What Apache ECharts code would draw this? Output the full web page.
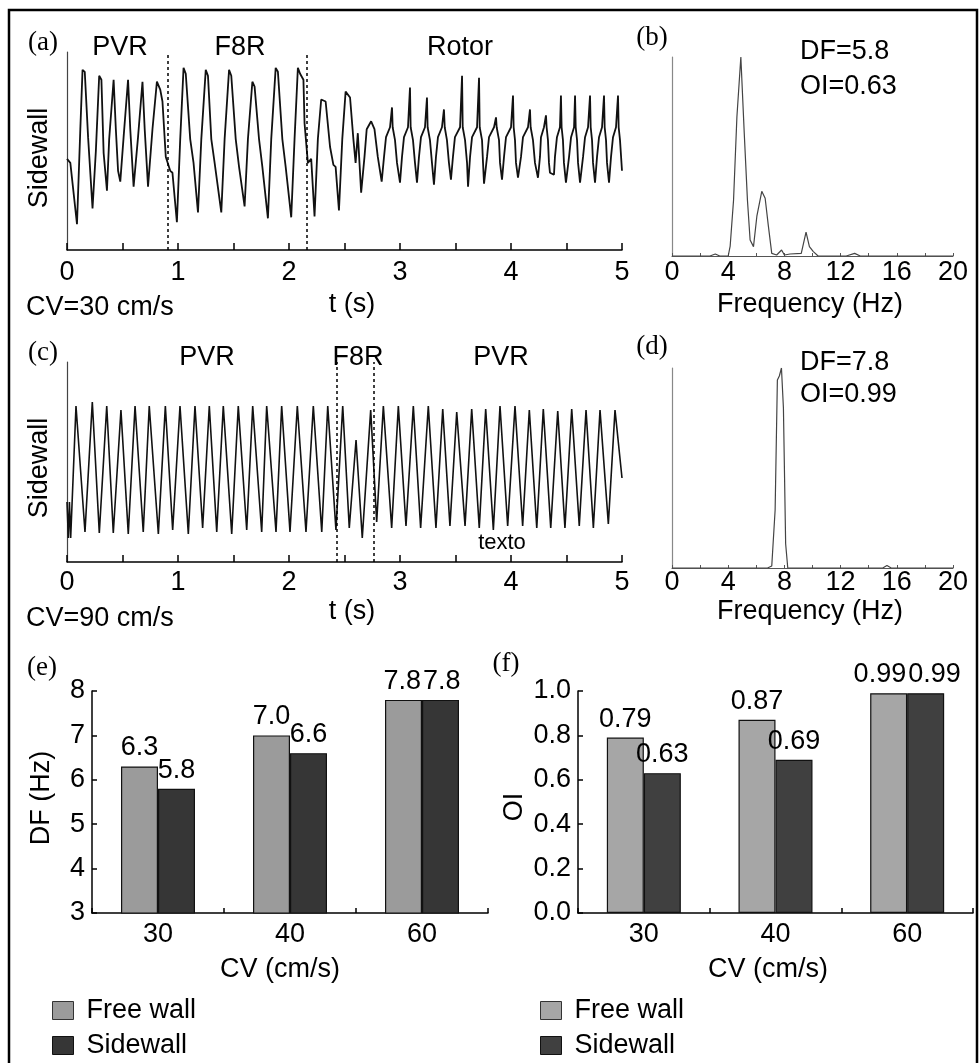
<!DOCTYPE html>
<html>
<head>
<meta charset="utf-8">
<script src="https://cdn.jsdelivr.net/npm/echarts@6/dist/echarts.min.js"></script>
<style>
  html, body { margin: 0; padding: 0; background: #fff; }
  #chart { width: 980px; height: 1063px; }
</style>
</head>
<body>
<div id="chart"></div>
<script>
// 时间信号 (a): [t (s), 幅值]
const sigA = [
  [0.00,0.46],[0.03,0.44],[0.09,0.13],[0.12,0.61],[0.14,0.91],[0.16,0.90],[0.19,0.57],[0.23,0.21],
  [0.26,0.50],[0.29,0.88],[0.31,0.86],[0.33,0.49],[0.36,0.30],[0.38,0.56],[0.42,0.86],[0.44,0.61],
  [0.46,0.40],[0.48,0.345],[0.51,0.57],[0.55,0.86],[0.57,0.61],[0.60,0.32],[0.64,0.57],[0.68,0.85],
  [0.70,0.61],[0.73,0.32],[0.77,0.61],[0.81,0.85],[0.84,0.81],[0.86,0.75],[0.89,0.47],[0.93,0.40],
  [0.95,0.39],[0.99,0.14],[1.02,0.56],[1.05,0.92],[1.07,0.89],[1.11,0.56],[1.14,0.44],[1.18,0.19],
  [1.21,0.56],[1.25,0.91],[1.27,0.88],[1.30,0.56],[1.33,0.44],[1.39,0.19],[1.42,0.56],[1.46,0.91],
  [1.48,0.88],[1.52,0.56],[1.55,0.42],[1.60,0.22],[1.63,0.56],[1.67,0.85],[1.69,0.825],[1.73,0.56],
  [1.76,0.42],[1.81,0.16],[1.84,0.56],[1.88,0.92],[1.90,0.90],[1.94,0.56],[1.97,0.42],[2.02,0.165],
  [2.05,0.56],[2.08,0.92],[2.10,0.89],[2.13,0.86],[2.14,0.64],[2.17,0.44],[2.20,0.46],[2.23,0.17],
  [2.26,0.56],[2.29,0.76],[2.33,0.75],[2.37,0.52],[2.40,0.43],[2.42,0.42],[2.45,0.20],[2.48,0.56],
  [2.51,0.80],[2.55,0.77],[2.58,0.56],[2.60,0.44],[2.62,0.59],[2.65,0.29],[2.68,0.47],[2.70,0.61],
  [2.74,0.65],[2.77,0.61],[2.80,0.47],[2.835,0.345],
  [2.856,0.47],[2.874,0.57],[2.910,0.62],[2.928,0.72],[2.934,0.62],[2.955,0.555],[2.973,0.44],[3.000,0.34],
  [3.018,0.47],[3.036,0.57],[3.072,0.62],[3.090,0.82],[3.096,0.62],[3.117,0.555],[3.135,0.44],[3.153,0.34],
  [3.171,0.47],[3.189,0.57],[3.225,0.62],[3.243,0.77],[3.249,0.62],[3.270,0.555],[3.288,0.44],[3.306,0.33],
  [3.324,0.47],[3.342,0.57],[3.378,0.62],[3.396,0.71],[3.403,0.62],[3.423,0.555],[3.441,0.44],[3.459,0.355],
  [3.477,0.47],[3.495,0.57],[3.541,0.62],[3.559,0.88],[3.565,0.62],[3.586,0.555],[3.604,0.44],[3.613,0.32],
  [3.631,0.47],[3.649,0.57],[3.694,0.62],[3.712,0.87],[3.718,0.62],[3.739,0.555],[3.748,0.44],[3.757,0.335],
  [3.784,0.47],[3.802,0.57],[3.847,0.62],[3.865,0.67],[3.871,0.62],[3.892,0.555],[3.901,0.44],[3.919,0.355],
  [3.937,0.47],[3.955,0.57],[4.000,0.62],[4.018,0.78],[4.024,0.62],[4.036,0.555],[4.045,0.44],[4.063,0.365],
  [4.090,0.47],[4.108,0.57],[4.153,0.62],[4.171,0.71],[4.177,0.62],[4.198,0.555],[4.216,0.44],[4.243,0.365],
  [4.261,0.47],[4.270,0.57],[4.297,0.62],[4.315,0.68],[4.321,0.62],[4.333,0.555],[4.342,0.44],[4.351,0.39],[4.387,0.38],
  [4.396,0.47],[4.414,0.57],[4.441,0.62],[4.450,0.78],[4.456,0.62],[4.468,0.555],[4.477,0.44],[4.495,0.34],
  [4.523,0.47],[4.541,0.57],[4.568,0.62],[4.577,0.78],[4.583,0.62],[4.595,0.555],[4.604,0.44],[4.622,0.34],
  [4.649,0.47],[4.667,0.57],[4.694,0.62],[4.712,0.78],[4.718,0.62],[4.730,0.555],[4.739,0.44],[4.757,0.34],
  [4.775,0.47],[4.793,0.57],[4.820,0.62],[4.838,0.78],[4.844,0.62],[4.856,0.555],[4.865,0.44],[4.883,0.34],
  [4.901,0.47],[4.919,0.57],[4.946,0.62],[4.964,0.78],[4.970,0.62],[4.982,0.555],[5.000,0.40]
];
// 时间信号 (c)
const sigC = [
  [0,0.30],[0.012,0.12],[0.022,0.30],[0.033,0.12],
  [0.081,0.78],[0.162,0.15],[0.228,0.80],[0.291,0.145],[0.358,0.78],[0.417,0.145],[0.486,0.76],[0.552,0.14],
  [0.613,0.78],[0.687,0.15],[0.741,0.78],[0.823,0.14],[0.886,0.78],[0.952,0.16],[1.018,0.78],[1.093,0.14],
  [1.153,0.78],[1.222,0.17],[1.282,0.78],[1.349,0.15],[1.408,0.78],[1.484,0.14],[1.543,0.78],[1.619,0.16],
  [1.673,0.78],[1.754,0.15],[1.799,0.78],[1.883,0.15],[1.934,0.78],[2.009,0.15],[2.075,0.78],[2.153,0.15],
  [2.219,0.78],[2.295,0.15],[2.349,0.78],[2.423,0.16],[2.484,0.78],[2.543,0.17],[2.604,0.61],[2.660,0.12],
  [2.736,0.76],[2.790,0.20],[2.850,0.78],[2.925,0.17],[2.985,0.78],[3.054,0.18],[3.120,0.78],[3.186,0.17],
  [3.255,0.78],[3.324,0.17],[3.385,0.765],[3.450,0.18],[3.511,0.75],[3.586,0.18],[3.646,0.765],[3.714,0.17],
  [3.772,0.765],[3.841,0.16],[3.901,0.78],[3.970,0.18],[4.036,0.78],[4.105,0.18],[4.165,0.76],[4.232,0.17],
  [4.291,0.765],[4.358,0.17],[4.421,0.755],[4.486,0.17],[4.547,0.765],[4.615,0.18],[4.676,0.76],[4.742,0.17],
  [4.802,0.76],[4.877,0.19],[4.937,0.76],[5.0,0.42]
];
// 频谱 (b)、(d): [频率 Hz, 相对功率]
const specB = [
  [0,0],[2.7,0],[3.08,0.01],[3.4,0],[4.0,0],[4.14,0.05],[4.38,0.28],[4.62,0.70],[4.9,1.0],[5.14,0.62],
  [5.37,0.28],[5.56,0.08],[5.8,0.047],[6.04,0.2],[6.39,0.325],[6.63,0.29],[6.86,0.15],[7.1,0.013],
  [7.45,0.005],[7.8,0.03],[8.0,0.005],[8.4,0.01],[9.2,0.013],[9.54,0.12],[9.78,0.047],[10.06,0.022],
  [10.4,0],[12.4,0],[13.0,0.013],[13.4,0],[20,0]
];
const specD = [
  [0,0],[6.8,0],[7.1,0.01],[7.34,0.29],[7.5,0.94],[7.64,0.96],[7.79,1.0],[7.93,0.80],[8.09,0.12],
  [8.24,0],[15.0,0],[15.3,0.013],[15.6,0],[20,0]
];
const dividersA = [0.91, 2.16];
const dividersC = [2.43, 2.76];
// 柱状图 (e)、(f)
const cvCats = ['30', '40', '60'];
const dfFree = [6.3, 7.0, 7.8];
const dfSide = [5.8, 6.6, 7.8];
const oiFree = [0.79, 0.87, 0.99];
const oiSide = [0.63, 0.69, 0.99];

const FONT = '"Liberation Sans", Arial, sans-serif';
const SERIF = '"Liberation Serif", "Times New Roman", serif';
const FS = 27;
const BAR_W = 37;

const chart = echarts.init(document.getElementById('chart'), null, { renderer: 'canvas' });

const txt = (text, x, y, opt) => Object.assign({
  type: 'text', x: x, y: y,
  style: { text: text, x: 0, y: 0, font: FS + 'px ' + FONT, fill: '#000',
    textAlign: 'center', textVerticalAlign: 'middle', align: 'center', verticalAlign: 'middle' }
}, opt || {});
const panel = (text, x, y) => {
  const t = txt(text, x, y);
  t.style.font = '27px ' + SERIF;
  return t;
};
const leftTxt = (text, x, y) => {
  const t = txt(text, x, y);
  t.style.textAlign = 'left'; t.style.align = 'left';
  return t;
};

function timeX(idx, margin) {
  return {
    type: 'value', gridIndex: idx, min: 0, max: 5, interval: 0.5,
    axisLine: { show: true, lineStyle: { color: '#000', width: 1.5 } },
    axisTick: { show: true, inside: true, length: 7, lineStyle: { color: '#000', width: 1.5 } },
    axisLabel: { margin: margin, fontSize: FS, fontFamily: FONT, color: '#000',
      formatter: v => (Number.isInteger(v) ? String(v) : '') },
    splitLine: { show: false }
  };
}
function freqX(idx, margin) {
  return {
    type: 'value', gridIndex: idx, min: 0, max: 20, interval: 2,
    axisLine: { show: true, lineStyle: { color: '#555', width: 1 } },
    axisTick: { show: true, inside: true, length: 3, lineStyle: { color: '#555' } },
    axisLabel: { margin: margin, fontSize: FS, fontFamily: FONT, color: '#000',
      formatter: v => (v % 4 === 0 ? String(v) : '') },
    splitLine: { show: false }
  };
}
function plainY(idx, color) {
  return {
    type: 'value', gridIndex: idx, min: 0, max: 1,
    axisLine: { show: true, onZero: false, lineStyle: { color: color, width: 1.2 } },
    axisTick: { show: false }, axisLabel: { show: false }, splitLine: { show: false }
  };
}
function catX(idx) {
  return {
    type: 'category', gridIndex: idx, data: cvCats,
    axisLine: { show: true, lineStyle: { color: '#000', width: 1.5 } },
    axisTick: { show: true, inside: true, length: 5, alignWithLabel: false, lineStyle: { color: '#000', width: 1.5 } },
    axisLabel: { margin: 8, fontSize: FS, fontFamily: FONT, color: '#000' }
  };
}
function barY(idx, min, max, step, digits) {
  return {
    type: 'value', gridIndex: idx, min: min, max: max, interval: step,
    axisLine: { show: true, lineStyle: { color: '#000', width: 1.5 } },
    axisTick: { show: true, inside: true, length: 5, lineStyle: { color: '#000', width: 1.5 } },
    axisLabel: { margin: 7, fontSize: FS, fontFamily: FONT, color: '#000',
      formatter: v => v.toFixed(digits) },
    splitLine: { show: false }
  };
}
function divider(vals) {
  return {
    silent: true, symbol: 'none', label: { show: false },
    lineStyle: { color: '#000', type: [3, 3], width: 1.5 },
    data: vals.map(v => ({ xAxis: v }))
  };
}
// 同高的两根柱子：标签左右推开，避免重叠
function bar(name, idx, data, other, color, digits, dir) {
  return {
    name: name, type: 'bar', xAxisIndex: idx, yAxisIndex: idx, data: data,
    barWidth: BAR_W, barGap: '0%',
    itemStyle: { color: color, borderColor: '#111', borderWidth: 1.2 },
    label: { show: true, position: 'top', distance: 5, fontSize: FS, fontFamily: FONT, color: '#000',
      formatter: p => p.value.toFixed(digits) },
    labelLayout: function (p) {
      if (Math.abs(data[p.dataIndex] - other[p.dataIndex]) > 0.05) return {};
      const shift = Math.max(0, (p.labelRect.width - BAR_W) / 2 + 1);
      return { dx: dir * shift };
    }
  };
}
function legendAt(left, free, side) {
  return {
    left: left, top: 997, height: 80, padding: 0, orient: 'vertical',
    itemWidth: 21, itemHeight: 18, itemGap: 8,
    selectedMode: false, icon: 'rect',
    textStyle: { fontSize: FS, lineHeight: 26, fontFamily: FONT, color: '#000', padding: [0, 0, 0, 8] },
    data: [
      { name: 'Free wall', itemStyle: { color: free, borderColor: '#333', borderWidth: 1 } },
      { name: 'Sidewall', itemStyle: { color: side, borderColor: '#111', borderWidth: 1 } }
    ]
  };
}

const option = {
  animation: false,
  backgroundColor: '#fff',
  textStyle: { fontFamily: FONT },
  grid: [
    { left: 67, top: 52, width: 555, height: 198 },   // a
    { left: 672, top: 57, width: 281, height: 199 },  // b
    { left: 67, top: 362, width: 555, height: 200 },  // c
    { left: 672, top: 368, width: 281, height: 200 }, // d
    { left: 92, top: 691, width: 396, height: 222 },  // e
    { left: 578, top: 691, width: 395, height: 222 }  // f
  ],
  xAxis: [timeX(0, 9), freqX(1, 3), timeX(2, 7), freqX(3, 1), catX(4), catX(5)],
  yAxis: [plainY(0, '#444'), plainY(1, '#888'), plainY(2, '#444'), plainY(3, '#888'),
    barY(4, 3, 8, 1, 0), barY(5, 0, 1, 0.2, 1)],
  legend: [legendAt(52, '#9b9b9b', '#363636'), legendAt(540, '#a6a6a6', '#404040')],
  series: [
    { type: 'line', xAxisIndex: 0, yAxisIndex: 0, data: sigA, showSymbol: false, silent: true,
      lineStyle: { color: '#111', width: 1.8 }, markLine: divider(dividersA) },
    { type: 'line', xAxisIndex: 1, yAxisIndex: 1, data: specB, showSymbol: false, silent: true,
      lineStyle: { color: '#444', width: 1.2 } },
    { type: 'line', xAxisIndex: 2, yAxisIndex: 2, data: sigC, showSymbol: false, silent: true,
      lineStyle: { color: '#111', width: 1.6 }, markLine: divider(dividersC) },
    { type: 'line', xAxisIndex: 3, yAxisIndex: 3, data: specD, showSymbol: false, silent: true,
      lineStyle: { color: '#444', width: 1.2 } },
    bar('Free wall', 4, dfFree, dfSide, '#9b9b9b', 1, -1),
    bar('Sidewall', 4, dfSide, dfFree, '#363636', 1, 1),
    bar('Free wall', 5, oiFree, oiSide, '#a6a6a6', 2, -1),
    bar('Sidewall', 5, oiSide, oiFree, '#404040', 2, 1)
  ],
  graphic: [
    { type: 'rect', shape: { x: 9, y: 10, width: 968, height: 1070 },
      style: { fill: 'none', stroke: '#000', lineWidth: 2.5 }, silent: true },
    panel('(a)', 43, 43), panel('(b)', 652, 38), panel('(c)', 43, 353),
    panel('(d)', 652, 347), panel('(e)', 42, 668), panel('(f)', 506, 664),
    txt('PVR', 120, 48), txt('F8R', 240, 48), txt('Rotor', 460, 48),
    txt('PVR', 207, 358), txt('F8R', 358, 358), txt('PVR', 501, 358),
    txt('Sidewall', 40, 158, { rotation: Math.PI / 2 }),
    txt('Sidewall', 40, 468, { rotation: Math.PI / 2 }),
    txt('t (s)', 352, 305), txt('t (s)', 352, 612),
    leftTxt('CV=30 cm/s', 26, 308), leftTxt('CV=90 cm/s', 26, 619),
    txt('texto', 502, 543, { style: { text: 'texto', x: 0, y: 0, font: '22px ' + FONT, fill: '#000',
      textAlign: 'center', textVerticalAlign: 'middle', align: 'center', verticalAlign: 'middle' } }),
    txt('Frequency (Hz)', 810, 305), txt('Frequency (Hz)', 810, 612),
    leftTxt('DF=5.8', 800, 52), leftTxt('OI=0.63', 800, 87),
    leftTxt('DF=7.8', 800, 363), leftTxt('OI=0.99', 800, 395),
    txt('DF (Hz)', 42, 798, { rotation: Math.PI / 2 }),
    txt('OI', 515, 807, { rotation: Math.PI / 2 }),
    txt('CV (cm/s)', 280, 970), txt('CV (cm/s)', 768, 970)
  ]
};
chart.setOption(option);
</script>
</body>
</html>
